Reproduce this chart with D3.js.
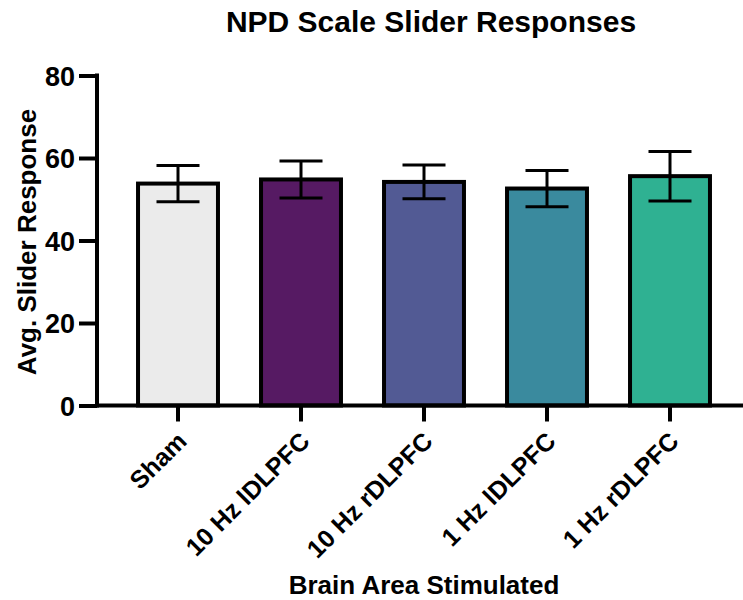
<!DOCTYPE html>
<html>
<head>
<meta charset="utf-8">
<script src="https://cdn.jsdelivr.net/npm/d3@7"></script>
<style>
  body { margin: 0; background: #fff; }
  text { font-family: "Liberation Sans", Arial, Helvetica, sans-serif; font-weight: bold; fill: #000; }
</style>
</head>
<body>
<div id="chart"></div>
<script>
// --- Data ---
const groups = ['Sham', '10 Hz lDLPFC', '10 Hz rDLPFC', '1 Hz lDLPFC', '1 Hz rDLPFC'];
const means = [53.8, 54.8, 54.2, 52.6, 55.6];
const errors = [4.4, 4.5, 4.1, 4.4, 6.0];
const colors = ['#ebebeb', '#561a63', '#525a94', '#3a8a9e', '#2fb192'];
const yTicks = [0, 20, 40, 60, 80];

// --- Layout ---
const width = 743;
const height = 600;
const axisX = 97;
const axisY = 405.5;

const svg = d3.select('#chart').append('svg')
    .attr('width', width)
    .attr('height', height);

const x = d3.scaleBand()
    .domain(groups)
    .range([116.5, 731.5])
    .paddingInner(0.35)
    .paddingOuter(0.175);

const y = d3.scaleLinear()
    .domain([0, 80])
    .range([axisY, 75.5]);

// --- Bars ---
svg.append('g')
    .selectAll('rect')
    .data(groups)
    .join('rect')
    .attr('x', d => x(d))
    .attr('y', (d, i) => y(means[i]))
    .attr('width', x.bandwidth())
    .attr('height', (d, i) => axisY - y(means[i]))
    .attr('fill', (d, i) => colors[i])
    .attr('stroke', '#000')
    .attr('stroke-width', 4);

// --- Error bars ---
const capW = 43;
const err = svg.append('g')
    .attr('stroke', '#000')
    .attr('stroke-width', 3);

groups.forEach((g, i) => {
    const cx = x(g) + x.bandwidth() / 2;
    const hi = y(means[i] + errors[i]);
    const lo = y(means[i] - errors[i]);
    err.append('line').attr('x1', cx).attr('x2', cx).attr('y1', hi).attr('y2', lo);
    err.append('line').attr('x1', cx - capW / 2).attr('x2', cx + capW / 2).attr('y1', hi).attr('y2', hi);
    err.append('line').attr('x1', cx - capW / 2).attr('x2', cx + capW / 2).attr('y1', lo).attr('y2', lo);
});

// --- Y axis ---
const yAxis = svg.append('g')
    .attr('transform', `translate(${axisX},0)`)
    .call(d3.axisLeft(y).tickValues(yTicks).tickSize(18).tickPadding(4));
yAxis.select('.domain').remove();
yAxis.selectAll('.tick line').attr('stroke', '#000').attr('stroke-width', 4);
yAxis.selectAll('.tick text').attr('font-size', 27).attr('dy', '0.36em');
yAxis.append('line')
    .attr('x1', 0).attr('x2', 0)
    .attr('y1', y(80) - 2).attr('y2', axisY + 2)
    .attr('stroke', '#000').attr('stroke-width', 4);

// --- X axis ---
const xAxis = svg.append('g')
    .attr('transform', `translate(0,${axisY})`)
    .call(d3.axisBottom(x).tickSize(16).tickPadding(6));
xAxis.select('.domain').remove();
xAxis.selectAll('.tick line').attr('stroke', '#000').attr('stroke-width', 4);
xAxis.selectAll('.tick text')
    .attr('font-size', 25)
    .attr('text-anchor', 'end')
    .attr('dy', '0.35em')
    .attr('transform', 'translate(4,31) rotate(-45)')
    .attr('y', 0)
    .attr('x', 0);
xAxis.append('line')
    .attr('x1', axisX - 2).attr('x2', width)
    .attr('y1', 0).attr('y2', 0)
    .attr('stroke', '#000').attr('stroke-width', 4);

// --- Titles ---
svg.append('text')
    .attr('x', 431).attr('y', 32)
    .attr('text-anchor', 'middle')
    .attr('font-size', 30)
    .text('NPD Scale Slider Responses');

svg.append('text')
    .attr('transform', `translate(36,242) rotate(-90)`)
    .attr('text-anchor', 'middle')
    .attr('font-size', 26)
    .text('Avg. Slider Response');

svg.append('text')
    .attr('x', 424).attr('y', 594)
    .attr('text-anchor', 'middle')
    .attr('font-size', 26)
    .text('Brain Area Stimulated');
</script>
</body>
</html>
